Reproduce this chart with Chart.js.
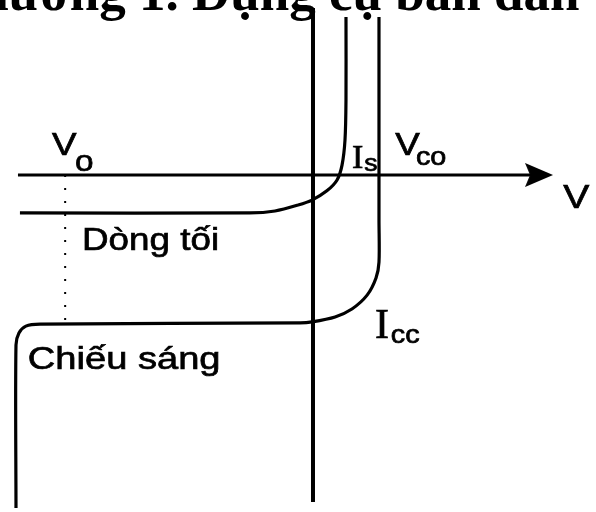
<!DOCTYPE html>
<html lang="vi">
<head>
<meta charset="utf-8">
<script src="https://cdn.jsdelivr.net/npm/chart.js"></script>
<style>
    html, body { margin: 0; padding: 0; background: #fff; }
    canvas { display: block; }
</style>
</head>
<body>
<canvas id="myChart" width="596" height="512"></canvas>
<script>
// one unit = one division, origin where the V and I axes cross
// dark current curve (Dòng tối)
const darkV = [-8.85, -1.88, -1.12, -0.42, 0, 0.45, 0.76, 0.91, 1.0, 1.03, 1.03]
const darkI = [-1.15, -1.15, -1.09, -0.91, -0.76, -0.48, -0.15, 0.30, 1.06, 2.27, 4.79]
// illuminated curve (Chiếu sáng)
const lightV = [-8.97, -8.97, -8.88, -8.67, -8.24, -0.36, 0, 0.70, 1.21, 1.67, 1.94, 2.03, 2.03, 2.03]
const lightI = [-10.09, -5.15, -4.79, -4.58, -4.52, -4.48, -4.45, -4.30, -4.06, -3.64, -3.12, -2.64, -1.36, 4.79]
// axes and the Vo guide
const vAxisV = [-8.91, 6.9]
const iAxisI = [5.06, -9.91]
const voV = -7.48
const voI = [0, -4.45]
const arrowV = 6.88

const labels = [
    { text: "V", x: -7.88, y: 0.61, font: '32px "Liberation Sans"' },
    { text: "o", x: -7.18, y: 0.12, font: '29px "Liberation Sans"' },
    { text: "Dòng tối", x: -6.97, y: -2.27, font: '32px "Liberation Sans"' },
    { text: "Chiếu sáng", x: -8.61, y: -5.88, font: '32px "Liberation Sans"', hs: 1.19 },
    { text: "I", x: 1.21, y: 0.21, font: '34px "Liberation Serif"', hs: 1 },
    { text: "s", x: 1.58, y: 0.12, font: '23px "Liberation Sans"' },
    { text: "V", x: 2.52, y: 0.61, font: '32px "Liberation Sans"' },
    { text: "co", x: 3.15, y: 0.30, font: '25px "Liberation Sans"' },
    { text: "I", x: 1.91, y: -4.94, font: '42px "Liberation Serif"', hs: 1 },
    { text: "cc", x: 2.39, y: -5.09, font: '25px "Liberation Sans"' },
    { text: "V", x: 7.61, y: -1.0, font: '34px "Liberation Sans"' },
]
const title = "Chương 1. Dụng cụ bán dẫn"

const pts = (xs, ys) => xs.map((v, i) => ({ x: v, y: ys[i] }))

// arrow head image
const arrow = document.createElement("canvas")
arrow.width = 28
arrow.height = 24
const actx = arrow.getContext("2d")
actx.beginPath()
actx.moveTo(0, 0)
actx.lineTo(28, 12)
actx.lineTo(0, 24)
actx.lineTo(5, 12)
actx.closePath()
actx.fillStyle = "#000"
actx.fill()

const textPlugin = {
    id: "texts",
    afterDatasetsDraw(chart) {
        const { ctx, scales } = chart
        ctx.save()
        ctx.fillStyle = "#000"
        ctx.strokeStyle = "#000"
        ctx.lineWidth = 0.7
        ctx.textBaseline = "alphabetic"
        labels.forEach((l) => {
            ctx.save()
            ctx.font = l.font
            ctx.translate(scales.x.getPixelForValue(l.x), scales.y.getPixelForValue(l.y))
            ctx.scale(l.hs || 1.15, 1)
            ctx.fillText(l.text, 0, 0)
            ctx.strokeText(l.text, 0, 0)
            ctx.restore()
        })
        // page heading cut off at the top
        ctx.font = 'bold 53px "Liberation Serif"'
        const off = ctx.measureText("Chương 1. D").width + ctx.measureText("ụ").width / 2
        ctx.fillText(title, scales.x.getPixelForValue(-2.03) - off, scales.y.getPixelForValue(5.0))
        ctx.restore()
    },
}

const line = { showLine: true, borderColor: "#000", pointRadius: 0, fill: false }

new Chart(document.getElementById("myChart"), {
    type: "scatter",
    data: {
        datasets: [
            { ...line, data: pts(vAxisV, [0, 0]), borderWidth: 3 },
            { ...line, data: pts([0.03, 0.03], iAxisI), borderWidth: 4 },
            { ...line, data: pts([voV, voV], voI), borderWidth: 2, borderDash: [2, 11] },
            { ...line, data: pts(darkV, darkI), borderWidth: 3.2, tension: 0.3 },
            { ...line, data: pts(lightV, lightI), borderWidth: 3.2, tension: 0.3 },
            { data: [{ x: arrowV, y: 0 }], pointStyle: arrow, pointRadius: 10 },
        ],
    },
    options: {
        responsive: false,
        animation: false,
        layout: { padding: 0, autoPadding: false },
        plugins: { legend: { display: false }, tooltip: { enabled: false } },
        scales: {
            x: { type: "linear", display: false, min: -9.4545, max: 8.6061 },
            y: { type: "linear", display: false, min: -10.2121, max: 5.303 },
        },
    },
    plugins: [textPlugin],
})
</script>
</body>
</html>
